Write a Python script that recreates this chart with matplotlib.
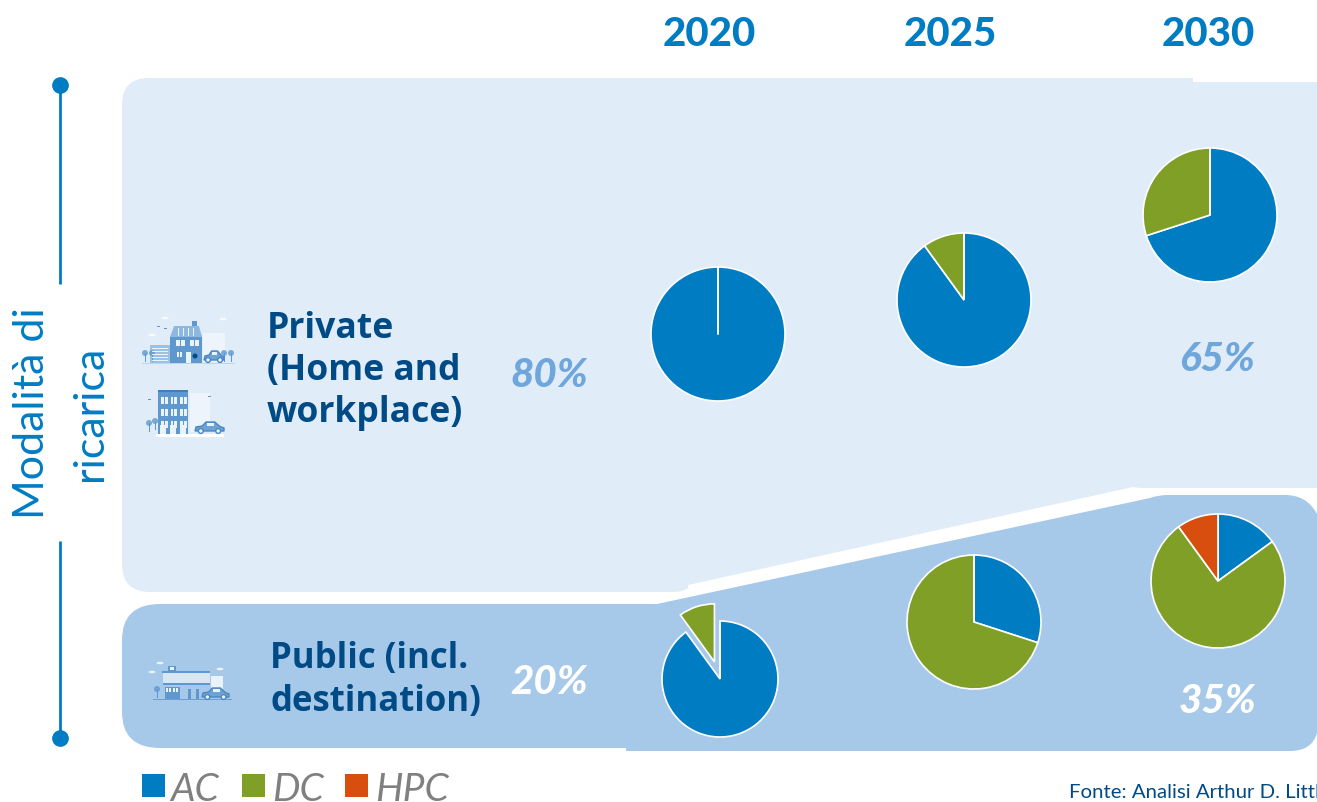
import matplotlib
matplotlib.use('Agg')
import matplotlib.pyplot as plt
from matplotlib.patches import PathPatch, Rectangle, Circle, Polygon, Ellipse
from matplotlib.path import Path

W, H = 1317, 803

AC = '#007CC3'
DC = '#7F9F27'
HPC = '#D74E0F'
LIGHT = '#E0ECF8'
MID = '#A6C8E9'
NAVY = '#004A86'
ICON = '#5F98CE'
PALE = '#EAF2FA'

years = ['2020', '2025', '2030']
techs = ['AC', 'DC', 'HPC']
tech_colors = [AC, DC, HPC]

private_mix = [[100, 0, 0], [90, 10, 0], [70, 30, 0]]
public_mix = [[90, 10, 0], [30, 70, 0], [15, 75, 10]]
private_share = ['80%', '65%']
public_share = ['20%', '35%']

plt.rcParams['font.family'] = ['Lato', 'DejaVu Sans']

fig = plt.figure(figsize=(W / 100, H / 100), dpi=100)
ax = fig.add_axes([0, 0, 1, 1])


def Y(py):
    return H - py - 1


def shape(points, color, z=1):
    # points are (x, y) or (x, y, ctrl_x, ctrl_y) for a rounded corner ending at x, y
    verts, codes = [], []
    for i, p in enumerate(points):
        if len(p) == 2:
            verts.append((p[0], Y(p[1])))
            codes.append(Path.MOVETO if i == 0 else Path.LINETO)
        else:
            verts += [(p[2], Y(p[3])), (p[0], Y(p[1]))]
            codes += [Path.CURVE3, Path.CURVE3]
    verts.append(verts[0])
    codes.append(Path.CLOSEPOLY)
    ax.add_patch(PathPatch(Path(verts, codes), fc=color, ec='none', zorder=z))


def rect(x0, y0, x1, y1, color, z=3):
    ax.add_patch(Rectangle((x0, Y(y1)), x1 - x0, y1 - y0, fc=color, ec='none', zorder=z))


def tree(x, base, color=ICON):
    rect(x - 0.5, base - 9, x + 0.5, base, color)
    ax.add_patch(Circle((x, Y(base - 9)), 3, fc=color, ec='none', alpha=0.8, zorder=3))


def cloud(x, y, w=7, color='white'):
    ax.add_patch(Ellipse((x, Y(y)), w, 2.5, fc=color, ec='none', alpha=0.8, zorder=3))


def car(x, base, length=28, color='#4A87C2', body='#6FA3D4'):
    ax.add_patch(Polygon([(x, Y(base - 2)), (x + 1, Y(base - 6)), (x + length * 0.25, Y(base - 7)),
                          (x + length * 0.38, Y(base - 11)), (x + length * 0.68, Y(base - 11)),
                          (x + length * 0.86, Y(base - 6.5)), (x + length, Y(base - 5)),
                          (x + length, Y(base - 2))],
                         fc=body, ec=color, lw=1, zorder=4))
    rect(x + length * 0.4, base - 10, x + length * 0.66, base - 7, PALE, 5)
    for cx in (x + length * 0.2, x + length * 0.8):
        ax.add_patch(Circle((cx, Y(base - 2)), 2.4, fc=PALE, ec=color, lw=1, zorder=5))


def windows(x0, y0, cols, rows, dx, dy, w, h, color=PALE):
    # each pane gets a thin mullion so it reads as a window at this size
    for c in range(cols):
        for r in range(rows):
            left, top = x0 + c * dx, y0 + r * dy
            rect(left, top, left + w, top + h, color, 4)
            rect(left + w / 2 - 0.3, top, left + w / 2 + 0.3, top + h, ICON, 5)


# Background bands
shape([(145, 78), (1193, 78), (1193, 82), (1317, 82), (1317, 488), (1140, 488), (1133, 487),
       (688, 585), (688, 588), (672, 592, 683, 592), (150, 592), (122, 564, 122, 592),
       (122, 105), (149, 78, 122, 78)], LIGHT)
shape([(160, 604), (657, 604), (1150, 498), (1168, 495, 1158, 495), (1285, 495),
       (1317, 514, 1307, 495), (1317, 733), (1290, 751, 1312, 751), (626, 751), (626, 748),
       (160, 748), (122, 712, 122, 748), (122, 640), (160, 604, 122, 604)], MID)

# Vertical axis rule
ax.plot([60, 60], [Y(85), Y(284)], color=AC, lw=2, solid_capstyle='butt', zorder=2)
ax.plot([60, 60], [Y(541), Y(738)], color=AC, lw=2, solid_capstyle='butt', zorder=2)
ax.plot([60, 60], [Y(85), Y(738)], ls='none', marker='o', ms=11, color=AC, zorder=3)
ax.text(32, Y(412), 'Modalità di', rotation=90, color=AC, fontsize=31, ha='center', va='center')
ax.text(90, Y(412), 'ricarica', rotation=90, color=AC, fontsize=31, ha='center', va='center')

# Year headers
for x, year in zip([709, 950, 1208], years):
    ax.text(x, Y(34), year, color=AC, fontsize=29, fontweight='black', ha='center', va='center')

# House icon
rect(142, 362.5, 235, 363.5, '#BBD5EC')
rect(203, 333, 225, 362, '#EDF4FB', 2)
rect(170, 337, 202, 363, ICON)
ax.add_patch(Polygon([(170, Y(337)), (174, Y(326)), (199, Y(326)), (202, Y(337))], fc='#8DB8DF', ec='none', zorder=3))
for px in (178, 183, 188, 193):
    rect(px, 328, px + 1, 336, PALE, 4)
rect(192, 321, 197, 326, ICON)
rect(150, 345, 170, 362.5, '#9CC1E4')
windows(176, 340, 2, 1, 14, 0, 9, 6)
windows(177, 352, 1, 1, 0, 0, 5, 5)
rect(186, 352, 191, 363, PALE, 4)
ax.add_patch(Circle((195, Y(356)), 2.5, fc=NAVY, ec='none', zorder=4))
for py in range(348, 361, 3):
    rect(152, py, 168, py + 1, PALE, 4)
tree(145, 362)
tree(152, 362)
tree(224, 362)
tree(231, 362)
car(204, 362, 20)
cloud(152, 335)
cloud(165, 318)
cloud(223, 319)
rect(157, 325.5, 160, 326.5, ICON)
rect(164, 327.5, 167, 328.5, ICON)

# Apartment block icon
rect(156, 434, 224, 436.5, 'white')
rect(190, 393, 210, 432, '#EDF4FB', 2)
rect(158, 392, 188, 433.5, ICON)
rect(158, 390, 188, 392, '#3E7FBD')
windows(161, 397, 3, 3, 9.5, 12, 6.5, 7)
for cx in (163, 173, 183):
    rect(cx - 3, 425, cx + 3, 433.5, PALE, 5)
tree(149, 432)
tree(155, 430)
car(195, 433, 29)
rect(148, 398.5, 151, 399.5, ICON)
rect(208, 395.5, 211, 396.5, ICON)

# Service station icon
rect(153, 699, 232, 700, '#6E9FD0')
rect(211, 676, 223, 689, PALE, 2)
rect(163, 673, 210, 683, '#D9E7F4')
rect(162, 671, 210, 673, ICON)
rect(163, 683, 210, 685, ICON)
rect(165, 687, 180, 699, ICON)
windows(166, 688, 2, 1, 7, 0, 5, 4)
for px in (188, 196):
    rect(px, 689, px + 2.5, 699, ICON)
rect(168, 666, 176, 671, ICON)
rect(170, 667, 174, 670, PALE, 4)
tree(157, 698)
car(202, 699, 27)
cloud(160, 663)
cloud(220, 669)
cloud(152, 672)

# Row labels
ax.text(267, Y(370), 'Private\n(Home and\nworkplace)', color=NAVY, fontsize=25.6, fontweight='bold',
        family=['Open Sans', 'DejaVu Sans'], ha='left', va='center', linespacing=1.24)
ax.text(270, Y(679.5), 'Public (incl.\ndestination)', color=NAVY, fontsize=25, fontweight='bold',
        family=['Open Sans', 'DejaVu Sans'], ha='left', va='center', linespacing=1.23)

# Share labels
ax.text(549, Y(375), private_share[0], color='#6FA6DC', fontsize=29, fontweight='black', style='italic', ha='center', va='center')
ax.text(1217, Y(359), private_share[1], color='#6FA6DC', fontsize=29, fontweight='black', style='italic', ha='center', va='center')
ax.text(549, Y(682), public_share[0], color='white', fontsize=29, fontweight='black', style='italic', ha='center', va='center')
ax.text(1217, Y(701), public_share[1], color='white', fontsize=29, fontweight='black', style='italic', ha='center', va='center')

# Pies
private_centers = [(718, 334), (964, 300), (1210, 215)]
public_centers = [(720, 679), (974, 622), (1218, 581)]
wedge_style = {'edgecolor': 'white', 'linewidth': 1.2}

for center, mix in zip(private_centers, private_mix):
    ax.pie(mix, colors=tech_colors, center=(center[0], Y(center[1])), radius=67,
           startangle=90, counterclock=False, wedgeprops=wedge_style)
# the all-AC pie still shows its seam at twelve o'clock
ax.plot([718, 718], [Y(267), Y(334)], color='white', lw=1.2, zorder=5)

for i, (center, mix) in enumerate(zip(public_centers, public_mix)):
    radius = 58 if i == 0 else 67
    # pie() takes explode in data units, so this is a shift of 18 px
    explode = [0, 18, 0] if i == 0 else None
    ax.pie(mix, colors=tech_colors, center=(center[0], Y(center[1])), radius=radius,
           startangle=90, counterclock=False, wedgeprops=wedge_style, explode=explode)

# Legend
for x, name, color, tx in zip([142, 242, 345], techs, tech_colors, [170, 272, 375]):
    rect(x, 774, x + 23, 797, color)
    ax.text(tx, Y(800), name, color='#808080', fontsize=28, style='italic',
            ha='left', va='baseline')

ax.text(1069, Y(797), 'Fonte: Analisi Arthur D. Little', color=NAVY, fontsize=14.7, ha='left', va='baseline')

ax.set_xlim(0, W)
ax.set_ylim(0, H)
ax.set_aspect('auto')
ax.axis('off')

fig.savefig('out.png', dpi=100, facecolor='white')
